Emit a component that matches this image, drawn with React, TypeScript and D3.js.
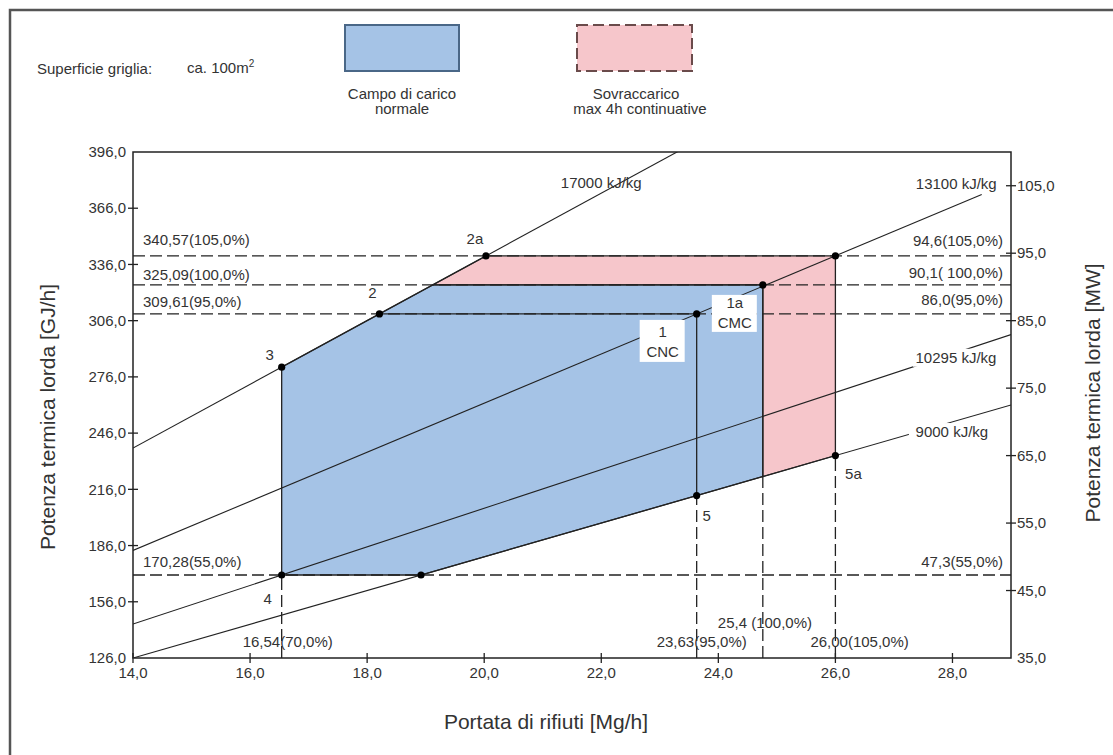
import * as d3 from 'd3';

// axes
const xTicks = [14, 16, 18, 20, 22, 24, 26, 28];
const yTicksGJ = [126, 156, 186, 216, 246, 276, 306, 336, 366, 396];
const yTicksMW = [35, 45, 55, 65, 75, 85, 95, 105];

// iso-LHV lines [kJ/kg]
const lhvValues = [17000, 13100, 10295, 9000];
const lhvEnds = [29, 28.5, 29, 29];
const lhvLabels = ['17000 kJ/kg', '13100 kJ/kg', '10295 kJ/kg', '9000 kJ/kg'];

// load levels (GJ/h) and labels
const loadLevels = [340.57, 325.09, 309.61, 170.28];
const loadLabelsGJ = ['340,57(105,0%)', '325,09(100,0%)', '309,61(95,0%)', '170,28(55,0%)'];
const loadLabelsMW = ['94,6(105,0%)', '90,1( 100,0%)', '86,0(95,0%)', '47,3(55,0%)'];

// flow levels (Mg/h)
const flowLevels = [16.54, 23.63, 24.76, 26.0];
const flowFloor = [170.28, 212.67, 222.84, 234.0];
const flowLabels = ['16,54(70,0%)', '23,63(95,0%)', '25,4 (100,0%)', '26,00(105,0%)'];

// operating points
const pointNames = ['2a', '2', '3', '4', '', '5', '5a', '1', '1a', ''];
const pointFlow = [20.03, 18.21, 16.54, 16.54, 18.92, 23.63, 26.0, 23.63, 24.76, 26.0];
const pointPower = [340.57, 309.61, 281.18, 170.28, 170.28, 212.67, 234.0, 309.61, 325.09, 340.57];

// load fields
const normalFlow = [16.54, 18.92, 24.76, 24.76, 19.12, 18.21, 16.54];
const normalPower = [170.28, 170.28, 222.84, 325.09, 325.09, 309.61, 281.18];
const overFlow = [19.12, 20.03, 26.0, 26.0, 24.76, 24.76];
const overPower = [325.09, 340.57, 340.57, 234.0, 222.84, 325.09];

const W = 1113;
const H = 755;
const FONT = '"Liberation Sans", Arial, sans-serif';
const BLUE = '#a5c3e6';
const PINK = '#f6c6cb';
const INK = '#222';

export default function App() {
  const x = d3.scaleLinear().domain([14, 29]).range([133, 1011]);
  const y = d3.scaleLinear().domain([126, 396]).range([658, 152]);
  const yMW = d3.scaleLinear().domain([35, 110]).range([658, 152]);

  const poly = (fx: number[], fy: number[]) =>
    d3.line<number>().x((_, i) => x(fx[i])).y((_, i) => y(fy[i]))(fx) + 'Z';

  const [x0, x1] = x.range();
  const [yb, yt] = y.range();

  // label offsets for points (px)
  const pOff: Record<string, [number, number]> = {
    '2a': [-11, -17], '2': [-7, -21], '3': [-12, -12], '4': [-14, 24], '5': [10, 20], '5a': [18, 18],
  };

  return (
    <svg width={W} height={H} style={{ position: 'absolute', left: 0, top: 0, background: '#fff' }}
      fontFamily={FONT}>
      <defs>
        <clipPath id="plot"><rect x={x0} y={yt} width={x1 - x0} height={yb - yt} /></clipPath>
      </defs>
      <rect x={10} y={10} width={1200} height={900} fill="none" stroke="#555" strokeWidth={2.5} />

      {/* legend */}
      <text x={37} y={74} fontSize={15} fill="#333">Superficie griglia:</text>
      <text x={187} y={73} fontSize={15} fill="#333">ca. 100m<tspan dy={-6} fontSize={10}>2</tspan></text>
      <rect x={345} y={25} width={114} height={46} fill={BLUE} stroke="#4a6787" strokeWidth={2} />
      <rect x={577} y={25} width={115} height={46} fill={PINK} stroke="#6a4b4b" strokeWidth={2} strokeDasharray="11 5" />
      <g fontSize={15} fill="#333" textAnchor="middle">
        <text x={402} y={99}>Campo di carico</text>
        <text x={402} y={114}>normale</text>
        <text x={636} y={99}>Sovraccarico</text>
        <text x={640} y={114}>max 4h continuative</text>
      </g>

      {/* fields */}
      <path d={poly(normalFlow, normalPower)} fill={BLUE} stroke="none" />
      <path d={poly(overFlow, overPower)} fill={PINK} stroke="none" />

      {/* dashed reference lines */}
      <g stroke={INK} strokeWidth={1.3} strokeDasharray="12 5" fill="none">
        {loadLevels.map((v, i) => (
          <line key={'h' + i} x1={x0} x2={x1} y1={y(v)} y2={y(v)} />
        ))}
        {flowLevels.map((v, i) => (
          <line key={'v' + i} x1={x(v)} x2={x(v)} y1={yb} y2={y(flowFloor[i])} />
        ))}
      </g>

      {/* iso-LHV lines */}
      <g clipPath="url(#plot)" stroke={INK} strokeWidth={1.1} fill="none">
        {lhvValues.map((lhv, i) => (
          <line key={lhv} x1={x(14)} y1={y(14 * lhv / 1000)} x2={x(lhvEnds[i])} y2={y(lhvEnds[i] * lhv / 1000)} />
        ))}
      </g>

      {/* field outlines */}
      <path d={poly(normalFlow, normalPower)} fill="none" stroke={INK} strokeWidth={1.3} />
      <path d={poly(overFlow, overPower)} fill="none" stroke={INK} strokeWidth={1.3} />
      <g stroke={INK} strokeWidth={1.3}>
        <line x1={x(pointFlow[1])} x2={x(pointFlow[7])} y1={y(pointPower[1])} y2={y(pointPower[7])} />
        <line x1={x(pointFlow[7])} x2={x(pointFlow[5])} y1={y(pointPower[7])} y2={y(pointPower[5])} />
      </g>

      {/* LHV labels */}
      <g fontSize={15} fill="#333">
        <text x={x(22.0)} y={y(22.0 * lhvValues[0] / 1000) - 10} dy="0.35em" textAnchor="middle">{lhvLabels[0]}</text>
        <text x={x(lhvEnds[1]) + 15} y={y(lhvEnds[1] * lhvValues[1] / 1000) - 11} dy="0.35em" textAnchor="end">{lhvLabels[1]}</text>
        {[2, 3].map((i) => {
          const f = i === 2 ? 28.06 : 27.99;
          const cx = x(f);
          const cy = y(f * lhvValues[i] / 1000) + (i === 2 ? 5 : 10);
          return (
            <g key={i}>
              <rect x={cx - 43} y={cy - 9} width={86} height={18} fill="#fff" />
              <text x={cx} y={cy} dy="0.35em" textAnchor="middle">{lhvLabels[i]}</text>
            </g>
          );
        })}
      </g>

      {/* level labels */}
      <g fontSize={15} fill="#333">
        {loadLevels.map((v, i) => {
          const off = [16, 10, 12, 13][i];
          return (
            <g key={i}>
              <text x={143} y={y(v) - off} dy="0.35em">{loadLabelsGJ[i]}</text>
              <text x={1003} y={y(v) - [15, 12, 14, 13][i]} dy="0.35em" textAnchor="end">{loadLabelsMW[i]}</text>
            </g>
          );
        })}
        {flowLevels.map((v, i) => (
          <text key={i} x={x(v) + [-39, -40, -45, -25][i]} y={i === 2 ? 623 : 642} dy="0.35em">{flowLabels[i]}</text>
        ))}
      </g>

      {/* points */}
      <g>
        {pointFlow.map((f, i) => (
          <circle key={i} cx={x(f)} cy={y(pointPower[i])} r={3.6} fill="#000" />
        ))}
      </g>
      <g fontSize={15} fill="#333" textAnchor="middle">
        {pointNames.map((n, i) => {
          const o = pOff[n];
          if (!o) return null;
          return <text key={i} x={x(pointFlow[i]) + o[0]} y={y(pointPower[i]) + o[1]} dy="0.35em">{n}</text>;
        })}
        {/* CNC / CMC boxes */}
        <rect x={x(pointFlow[7]) - 57} y={y(pointPower[7]) + 6} width={45} height={42} fill="#fff" />
        <text x={x(pointFlow[7]) - 34} y={y(pointPower[7]) + 18} dy="0.35em">1</text>
        <text x={x(pointFlow[7]) - 34} y={y(pointPower[7]) + 38} dy="0.35em">CNC</text>
        <rect x={x(pointFlow[8]) - 51} y={y(pointPower[8]) + 10} width={45} height={37} fill="#fff" />
        <text x={x(pointFlow[8]) - 28} y={y(pointPower[8]) + 18} dy="0.35em">1a</text>
        <text x={x(pointFlow[8]) - 28} y={y(pointPower[8]) + 38} dy="0.35em">CMC</text>
      </g>

      {/* frame & axes */}
      <rect x={x0} y={yt} width={x1 - x0} height={yb - yt} fill="none" stroke={INK} strokeWidth={1.5} />
      <g stroke={INK} strokeWidth={1.3}>
        {xTicks.map((t) => <line key={t} x1={x(t)} x2={x(t)} y1={yb - 5} y2={yb + 5} />)}
        {yTicksGJ.slice(1, -1).map((t) => <line key={t} x1={x0 - 5} x2={x0 + 5} y1={y(t)} y2={y(t)} />)}
        {yTicksMW.slice(1).map((t) => <line key={t} x1={x1 - 5} x2={x1 + 5} y1={yMW(t)} y2={yMW(t)} />)}
      </g>
      <g fontSize={15} fill="#333">
        {xTicks.map((t) => (
          <text key={t} x={x(t)} y={673} dy="0.35em" textAnchor="middle">{d3.format('.1f')(t).replace('.', ',')}</text>
        ))}
        {yTicksGJ.map((t) => (
          <text key={t} x={126} y={y(t)} dy="0.35em" textAnchor="end">{d3.format('.1f')(t).replace('.', ',')}</text>
        ))}
        {yTicksMW.map((t) => (
          <text key={t} x={1017} y={yMW(t)} dy="0.35em">{d3.format('.1f')(t).replace('.', ',')}</text>
        ))}
      </g>

      {/* axis titles */}
      <g fontSize={21} fill="#333" textAnchor="middle">
        <text x={546} y={722} dy="0.35em">Portata di rifiuti [Mg/h]</text>
        <text transform="translate(48,417) rotate(-90)" dy="0.35em">Potenza termica lorda [GJ/h]</text>
        <text transform="translate(1093,393) rotate(-90)" dy="0.35em">Potenza termica lorda [MW]</text>
      </g>
    </svg>
  );
}
